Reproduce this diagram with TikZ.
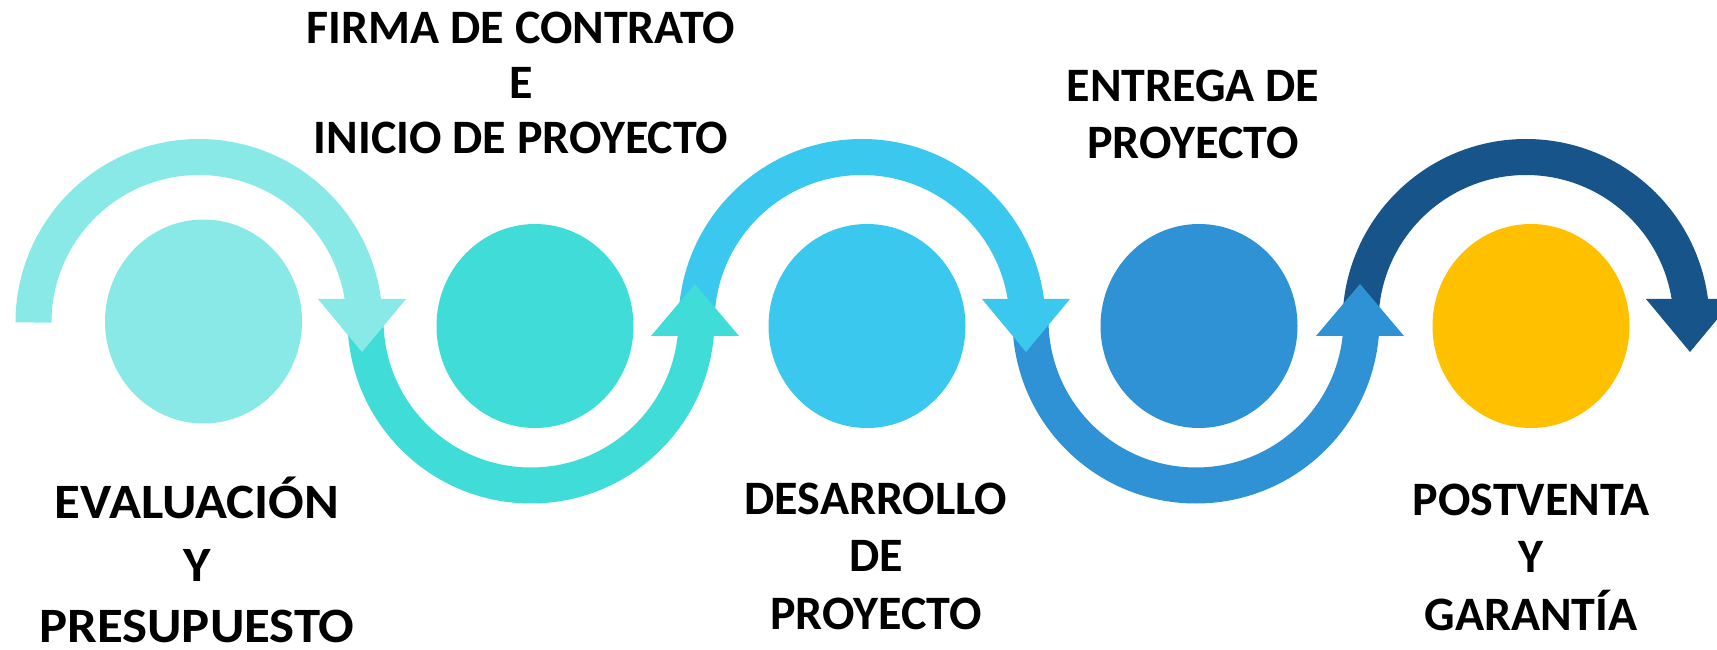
\documentclass[tikz,border=0pt]{standalone}
\usepackage{fontspec}
\setmainfont{Carlito}
\usetikzlibrary{shapes.geometric}
\definecolor{cA}{HTML}{89E9E7}
\definecolor{cB}{HTML}{40DCD8}
\definecolor{cC}{HTML}{3AC8EF}
\definecolor{cD}{HTML}{2E92D5}
\definecolor{cE}{HTML}{17548A}
\definecolor{cF}{HTML}{FFC000}
\begin{document}
\begin{tikzpicture}[x=1pt,y=1pt,
  lbl/.style={font=\fontsize{48}{58}\selectfont\bfseries, anchor=base, inner sep=0pt, text=black},
  widelbl/.style={lbl, xscale=1.1, yscale=1.03, transform shape},
  disc/.style={ellipse, minimum width=197pt, minimum height=204pt, inner sep=0pt, draw=none},
  band/.style={line width=36pt}]
\useasboundingbox (0,0) rectangle (1717,649);
\fill[white] (0,0) rectangle (1717,649);
% arc centres
\coordinate (a1) at (199,326.5);
\coordinate (a2) at (531,329);
\coordinate (a3) at (862,326.5);
\coordinate (a4) at (1196,329);
\coordinate (a5) at (1526,326.5);
% arc 5 (top, dark)
\draw[band, cE] (a5) ++(-165.5,0) arc[start angle=180, end angle=5.5, radius=165.5];
\fill[cE] (1646,350) -- (1734,350) -- (1690,297) -- cycle;
% arc 4 (bottom)
\draw[band, cD] (a4) ++(-165.5,0) arc[start angle=180, end angle=357, radius=165.5];
\fill[cD] (1316,313) -- (1404,313) -- (1360,365) -- cycle;
% arc 3 (top)
\draw[band, cC] (a3) ++(-165.5,0) arc[start angle=180, end angle=5.5, radius=165.5];
\fill[cC] (982,350) -- (1070,350) -- (1026,297) -- cycle;
% arc 2 (bottom)
\draw[band, cB] (a2) ++(-165.5,0) arc[start angle=180, end angle=357, radius=165.5];
\fill[cB] (651,313) -- (739,313) -- (695,365) -- cycle;
% arc 1 (top)
\draw[band, cA] (a1) ++(-165.5,0) arc[start angle=180, end angle=5.5, radius=165.5];
\fill[cA] (318,350) -- (406,350) -- (362,297) -- cycle;
% discs
\node[disc, fill=cA] (c1) at (203.5,327.5) {};
\node[disc, fill=cB] (c2) at (535,323) {};
\node[disc, fill=cC] (c3) at (867,323) {};
\node[disc, fill=cD] (c4) at (1199,323) {};
\node[disc, fill=cF] (c5) at (1531,323) {};
% labels
\node[widelbl] (l1a) at (197,131) {EVALUACIÓN};
\node[widelbl] (l1b) at (197,68) {Y};
\node[widelbl] (l1c) at (197,7) {PRESUPUESTO};
\node[lbl] (l2a) at (521,605) {FIRMA DE CONTRATO};
\node[lbl] (l2b) at (521,550) {E};
\node[lbl] (l2c) at (521,495) {INICIO DE PROYECTO};
\node[lbl] (l3a) at (876,135) {DESARROLLO};
\node[lbl] (l3b) at (876,78) {DE};
\node[lbl] (l3c) at (876,20) {PROYECTO};
\node[lbl] (l4a) at (1193,547) {ENTREGA DE};
\node[lbl] (l4b) at (1193,490) {PROYECTO};
\node[lbl] (l5a) at (1531,134) {POSTVENTA};
\node[lbl] (l5b) at (1531,77) {Y};
\node[lbl] (l5c) at (1531,19) {GARANTÍA};
\end{tikzpicture}
\end{document}
